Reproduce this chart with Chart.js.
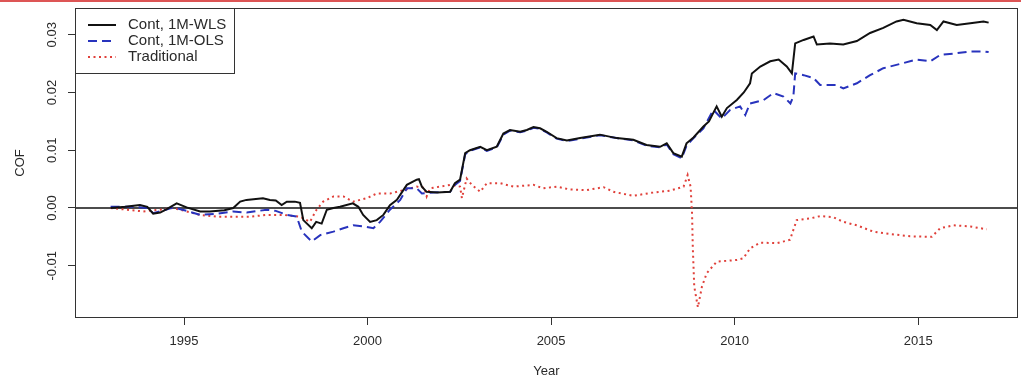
<!DOCTYPE html>
<html>
<head>
<meta charset="utf-8">
<title>COF by year</title>
<script src="https://cdn.jsdelivr.net/npm/chart.js@4/dist/chart.umd.min.js"></script>
<style>
  body { margin: 0; background: #fff; }
</style>
</head>
<body>
<canvas id="cofChart" width="1021" height="376"></canvas>
<script>
// values
const xTicks = [1995, 2000, 2005, 2010, 2015];
const yTicks = [-0.01, 0, 0.01, 0.02, 0.03];

const wlsYears = [1993.0, 1993.4, 1993.8, 1994.0, 1994.16, 1994.35, 1994.53, 1994.8, 1995.07, 1995.44,
  1995.7, 1996.1, 1996.34, 1996.53, 1996.7, 1997.15, 1997.34, 1997.5, 1997.66, 1997.8,
  1998.02, 1998.16, 1998.25, 1998.48, 1998.6, 1998.75, 1998.89, 1999.07, 1999.25, 1999.6,
  1999.75, 1999.88, 2000.07, 2000.25, 2000.43, 2000.61, 2000.8, 2001.07, 2001.34, 2001.4,
  2001.48, 2001.61, 2001.9, 2002.25, 2002.38, 2002.52, 2002.66, 2002.79, 2003.07, 2003.25,
  2003.52, 2003.7, 2003.88, 2004.16, 2004.34, 2004.52, 2004.7, 2004.88, 2005.15, 2005.43,
  2005.79, 2006.33, 2006.79, 2007.24, 2007.6, 2007.97, 2008.15, 2008.33, 2008.56, 2008.69,
  2008.88, 2009.15, 2009.3, 2009.51, 2009.65, 2009.79, 2010.06, 2010.25, 2010.42, 2010.47,
  2010.7, 2010.97, 2011.2, 2011.42, 2011.56, 2011.65, 2011.88, 2012.15, 2012.24, 2012.6,
  2012.96, 2013.33, 2013.69, 2014.05, 2014.41, 2014.6, 2014.96, 2015.33, 2015.51, 2015.69,
  2016.05, 2016.42, 2016.78, 2016.92];
const wlsCof = [0.0000, 0.0002, 0.0005, 0.0002, -0.0010, -0.0008, -0.0002, 0.0008, 0.0001, -0.0006,
  -0.0006, -0.0004, 0.0000, 0.0011, 0.0014, 0.0017, 0.0014, 0.0013, 0.0005, 0.0011,
  0.0011, 0.0009, -0.0021, -0.0035, -0.0024, -0.0027, -0.0003, 0.0000, 0.0002, 0.0008,
  0.0002, -0.0012, -0.0024, -0.0021, -0.0012, 0.0005, 0.0014, 0.0040, 0.0049, 0.0050,
  0.0037, 0.0028, 0.0027, 0.0028, 0.0043, 0.0049, 0.0095, 0.0100, 0.0106, 0.0100,
  0.0106, 0.0129, 0.0135, 0.0132, 0.0135, 0.0140, 0.0138, 0.0132, 0.0121, 0.0117,
  0.0121, 0.0127, 0.0121, 0.0118, 0.0109, 0.0106, 0.0112, 0.0095, 0.0089, 0.0112,
  0.0122, 0.0141, 0.0150, 0.0176, 0.0158, 0.0173, 0.0187, 0.0200, 0.0216, 0.0233,
  0.0245, 0.0254, 0.0257, 0.0245, 0.0233, 0.0285, 0.0291, 0.0297, 0.0283, 0.0285,
  0.0283, 0.0289, 0.0303, 0.0312, 0.0323, 0.0326, 0.0320, 0.0317, 0.0308, 0.0323,
  0.0317, 0.0320, 0.0323, 0.0321];

const olsYears = [1993.0, 1993.62, 1994.0, 1994.16, 1994.45, 1994.71, 1995.07, 1995.44, 1995.89, 1996.34,
  1996.71, 1997.25, 1997.5, 1997.8, 1998.07, 1998.21, 1998.48, 1998.71, 1999.07, 1999.34,
  1999.61, 1999.89, 2000.16, 2000.34, 2000.61, 2000.89, 2001.07, 2001.34, 2001.48, 2001.79,
  2002.25, 2002.38, 2002.52, 2002.66, 2002.79, 2003.07, 2003.25, 2003.52, 2003.7, 2003.88,
  2004.16, 2004.34, 2004.52, 2004.7, 2004.88, 2005.15, 2005.43, 2005.79, 2006.33, 2006.79,
  2007.24, 2007.6, 2007.97, 2008.15, 2008.33, 2008.56, 2008.69, 2008.88, 2009.15, 2009.42,
  2009.65, 2009.88, 2010.15, 2010.29, 2010.42, 2010.79, 2011.06, 2011.33, 2011.52, 2011.6,
  2011.65, 2011.88, 2012.15, 2012.33, 2012.78, 2012.96, 2013.33, 2013.69, 2014.05, 2014.6,
  2014.96, 2015.33, 2015.6, 2016.05, 2016.42, 2016.78, 2016.92];
const olsCof = [0.0002, 0.0002, 0.0000, -0.0009, -0.0004, 0.0001, -0.0005, -0.0012, -0.0010, -0.0006,
  -0.0008, -0.0003, -0.0005, -0.0012, -0.0015, -0.0041, -0.0058, -0.0047, -0.0041, -0.0035,
  -0.0030, -0.0032, -0.0035, -0.0024, -0.0003, 0.0014, 0.0034, 0.0034, 0.0025, 0.0027,
  0.0028, 0.0040, 0.0047, 0.0093, 0.0099, 0.0105, 0.0099, 0.0105, 0.0127, 0.0134,
  0.0131, 0.0134, 0.0139, 0.0137, 0.0131, 0.0120, 0.0116, 0.0120, 0.0126, 0.0121,
  0.0117, 0.0108, 0.0105, 0.0110, 0.0093, 0.0086, 0.0108, 0.0121, 0.0138, 0.0170,
  0.0155, 0.0170, 0.0176, 0.0161, 0.0181, 0.0187, 0.0199, 0.0193, 0.0181, 0.0193,
  0.0233, 0.0230, 0.0225, 0.0213, 0.0213, 0.0207, 0.0216, 0.0230, 0.0242, 0.0251,
  0.0257, 0.0254, 0.0265, 0.0268, 0.0271, 0.0271, 0.0270];

const tradYears = [1993.0, 1993.44, 1993.89, 1994.35, 1994.71, 1995.07, 1995.44, 1995.89, 1996.34, 1996.8,
  1997.25, 1997.7, 1998.16, 1998.43, 1998.61, 1998.79, 1999.07, 1999.34, 1999.61, 1999.98,
  2000.25, 2000.61, 2000.98, 2001.34, 2001.55, 2001.61, 2001.7, 2002.25, 2002.52, 2002.57,
  2002.7, 2002.84, 2003.07, 2003.25, 2003.61, 2003.97, 2004.52, 2004.79, 2005.15, 2005.52,
  2005.97, 2006.43, 2006.7, 2007.24, 2007.7, 2008.24, 2008.61, 2008.72, 2008.8, 2008.84,
  2008.86, 2008.9, 2009.0, 2009.11, 2009.24, 2009.51, 2010.06, 2010.24, 2010.42, 2010.7,
  2011.15, 2011.51, 2011.6, 2011.69, 2012.06, 2012.33, 2012.69, 2012.96, 2013.33, 2013.78,
  2014.24, 2014.78, 2015.37, 2015.6, 2015.96, 2016.42, 2016.87];
const tradCof = [0.0000, -0.0003, -0.0006, -0.0003, 0.0000, -0.0006, -0.0012, -0.0015, -0.0015, -0.0015,
  -0.0012, -0.0012, -0.0015, -0.0024, -0.0003, 0.0011, 0.0020, 0.0020, 0.0011, 0.0017,
  0.0025, 0.0025, 0.0031, 0.0037, 0.0035, 0.0020, 0.0034, 0.0040, 0.0037, 0.0017,
  0.0051, 0.0040, 0.0028, 0.0043, 0.0043, 0.0037, 0.0040, 0.0034, 0.0037, 0.0032,
  0.0031, 0.0036, 0.0028, 0.0021, 0.0026, 0.0030, 0.0037, 0.0057, 0.0037, -0.0009,
  -0.0067, -0.0136, -0.0172, -0.0136, -0.0113, -0.0093, -0.0090, -0.0087, -0.0070, -0.0060,
  -0.0061, -0.0055, -0.0038, -0.0021, -0.0018, -0.0014, -0.0016, -0.0024, -0.0030, -0.0041,
  -0.0045, -0.0049, -0.0050, -0.0035, -0.0030, -0.0032, -0.0037];

const seriesNames = ['Cont, 1M-WLS', 'Cont, 1M-OLS', 'Traditional'];

const toPoints = (xs, ys) => xs.map((x, i) => ({ x: x, y: ys[i] }));

const textFont = '"Liberation Sans", Arial, sans-serif';
const textColor = '#2a2a2a';

// box round the plot, zero line, legend and the red strip at the top
const framePlugin = {
  id: 'frame',
  beforeDatasetsDraw(chart) {
    const { ctx, chartArea, scales } = chart;
    const y0 = scales.y.getPixelForValue(0);
    ctx.save();
    ctx.strokeStyle = '#111';
    ctx.lineWidth = 1.3;
    ctx.beginPath();
    ctx.moveTo(chartArea.left, y0);
    ctx.lineTo(chartArea.right, y0);
    ctx.stroke();
    ctx.restore();
  },
  afterDraw(chart) {
    const { ctx, chartArea } = chart;
    ctx.save();
    ctx.fillStyle = '#dd5555';
    ctx.fillRect(0, 0, chart.width, 2);

    ctx.strokeStyle = '#333';
    ctx.lineWidth = 1;
    ctx.strokeRect(chartArea.left + 0.5, chartArea.top + 0.5,
      chartArea.right - chartArea.left - 1, chartArea.bottom - chartArea.top - 1);

    // legend
    const bx = chartArea.left + 0.5, by = chartArea.top + 0.5;
    ctx.fillStyle = '#fff';
    ctx.fillRect(bx, by, 159, 65);
    ctx.strokeRect(bx, by, 159, 65);
    const rows = [25, 41, 57];
    chart.data.datasets.forEach((ds, i) => {
      ctx.beginPath();
      ctx.strokeStyle = ds.borderColor;
      ctx.lineWidth = ds.borderWidth;
      ctx.setLineDash(ds.borderDash || []);
      ctx.moveTo(88, rows[i]);
      ctx.lineTo(116, rows[i]);
      ctx.stroke();
      ctx.setLineDash([]);
      ctx.fillStyle = textColor;
      ctx.font = '15px ' + textFont;
      ctx.textBaseline = 'middle';
      ctx.fillText(ds.label, 128, rows[i]);
    });
    ctx.restore();
  }
};

new Chart(document.getElementById('cofChart'), {
  type: 'line',
  data: {
    datasets: [
      {
        label: seriesNames[0],
        data: toPoints(wlsYears, wlsCof),
        borderColor: '#111111',
        borderWidth: 2,
        pointRadius: 0,
        tension: 0,
      },
      {
        label: seriesNames[1],
        data: toPoints(olsYears, olsCof),
        borderColor: '#2833bd',
        borderWidth: 2,
        borderDash: [9, 5],
        pointRadius: 0,
        tension: 0,
      },
      {
        label: seriesNames[2],
        data: toPoints(tradYears, tradCof),
        borderColor: '#e0403a',
        borderWidth: 2,
        borderDash: [2, 3.5],
        pointRadius: 0,
        tension: 0,
      },
    ],
  },
  options: {
    responsive: false,
    animation: false,
    layout: { padding: { top: 8, right: 3, left: 0, bottom: 0 } },
    plugins: {
      legend: { display: false },
      tooltip: { enabled: false },
    },
    scales: {
      x: {
        type: 'linear',
        min: 1992.03,
        max: 2017.72,
        afterBuildTicks: (s) => { s.ticks = xTicks.map(v => ({ value: v })); },
        afterFit: (s) => { s.height = 58; s.paddingLeft = 0; s.paddingRight = 0; },
        ticks: {
          autoSkip: false,
          maxRotation: 0,
          padding: 9,
          color: textColor,
          font: { family: textFont, size: 13 },
          callback: (v) => String(v),
        },
        grid: { drawOnChartArea: false, drawTicks: true, tickLength: 7, color: '#333' },
        border: { display: false },
        title: {
          display: true,
          text: 'Year',
          color: textColor,
          font: { family: textFont, size: 13, lineHeight: 0.75 },
          padding: { top: 0, bottom: 0 },
        },
      },
      y: {
        min: -0.01905,
        max: 0.03463,
        afterBuildTicks: (s) => { s.ticks = yTicks.map(v => ({ value: v })); },
        afterFit: (s) => { s.width = 75; s.paddingTop = 0; s.paddingBottom = 0; },
        ticks: {
          autoSkip: false,
          minRotation: 90,
          maxRotation: 90,
          crossAlign: 'center',
          padding: 1,
          color: textColor,
          font: { family: textFont, size: 13 },
          callback: (v) => v.toFixed(2),
        },
        grid: { drawOnChartArea: false, drawTicks: true, tickLength: 7, color: '#333' },
        border: { display: false },
        title: {
          display: true,
          text: 'COF',
          color: textColor,
          font: { family: textFont, size: 13, lineHeight: 1 },
          padding: { top: 14, bottom: 0 },
        },
      },
    },
  },
  plugins: [framePlugin],
});
</script>
</body>
</html>
